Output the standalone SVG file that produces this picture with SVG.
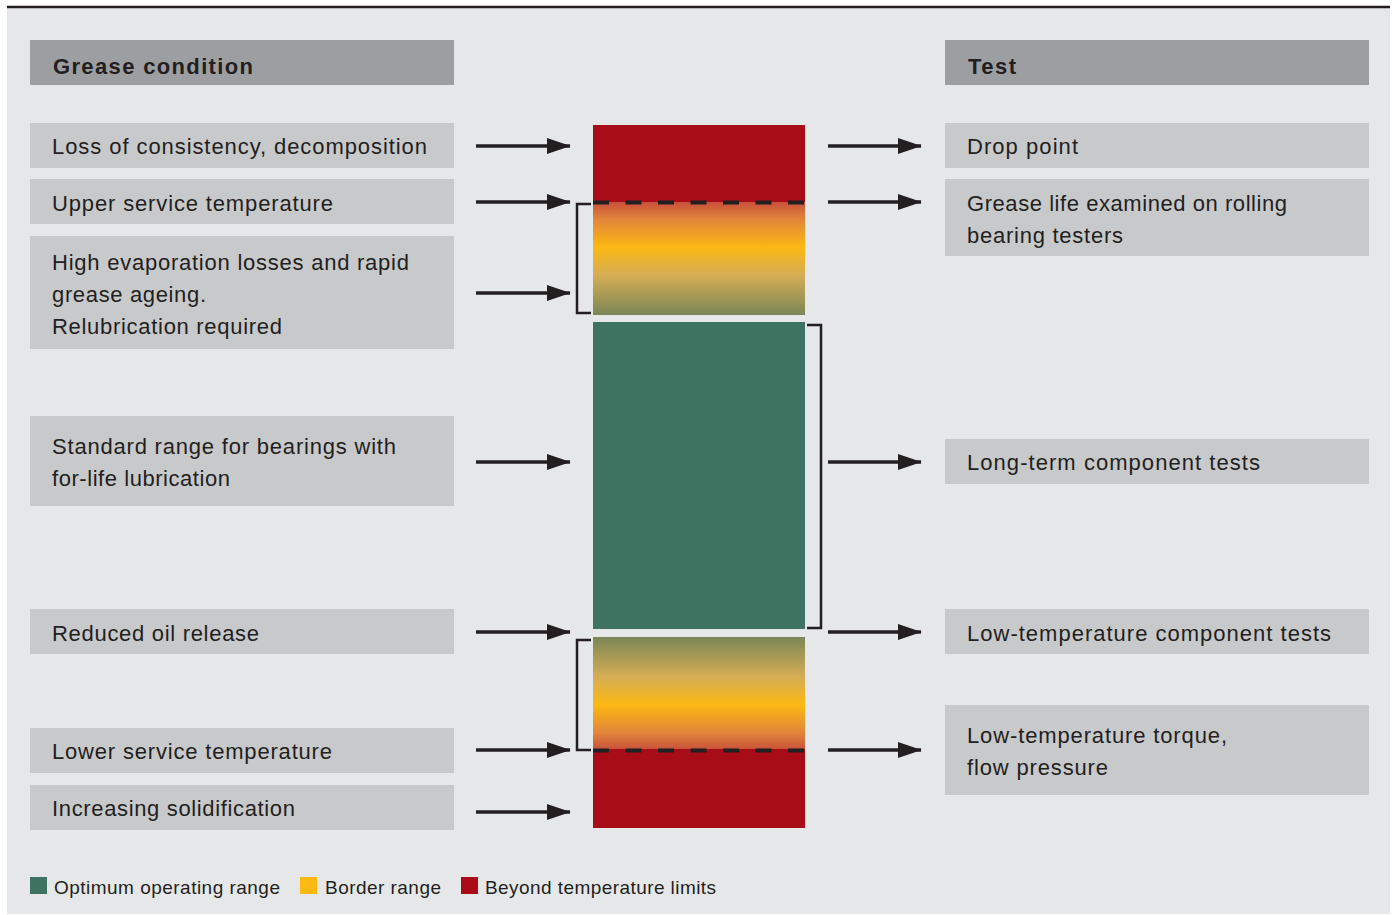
<svg xmlns="http://www.w3.org/2000/svg" width="1396" height="915" viewBox="0 0 1396 915">
<defs>
<style>
.t{font-family:"Liberation Sans",Arial,sans-serif;font-size:22px;fill:#231f20}
.h{font-family:"Liberation Sans",Arial,sans-serif;font-size:22px;font-weight:bold;fill:#231f20}
.l{font-family:"Liberation Sans",Arial,sans-serif;font-size:19px;fill:#231f20}
.hb{fill:#9d9ea1}
.b{fill:#c8c9cb}
.ar{stroke:#231f20;stroke-width:3.5;fill:none;marker-end:url(#ah)}
.br{stroke:#231f20;stroke-width:2.5;fill:none}
.ds{stroke:#231f20;stroke-width:4;stroke-dasharray:16 16.5;fill:none}
</style>
<marker id="ah" markerWidth="7" markerHeight="5" refX="6.6" refY="2.5" orient="auto" markerUnits="strokeWidth">
<path d="M0,0.2 L6.8,2.5 L0,4.8 Z" fill="#231f20"/>
</marker>
<linearGradient id="gUp" x1="0" y1="0" x2="0" y2="1">
<stop offset="0" stop-color="#c9503a"/>
<stop offset="0.15" stop-color="#e0843a"/>
<stop offset="0.4" stop-color="#fcb813"/>
<stop offset="0.65" stop-color="#d5ad55"/>
<stop offset="1" stop-color="#7a8655"/>
</linearGradient>
<linearGradient id="gLo" x1="0" y1="1" x2="0" y2="0">
<stop offset="0" stop-color="#c9503a"/>
<stop offset="0.15" stop-color="#e0843a"/>
<stop offset="0.4" stop-color="#fcb813"/>
<stop offset="0.65" stop-color="#d5ad55"/>
<stop offset="1" stop-color="#7a8655"/>
</linearGradient>
</defs>
<rect x="7" y="8" width="1383" height="906" fill="#e6e7e8"/>
<line x1="7" y1="7" x2="1390" y2="7" stroke="#231f20" stroke-width="2.5"/>

<g id="header-left"><rect class="hb" x="30" y="40" width="424" height="45"/><text class="h" x="53" y="74" textLength="200" lengthAdjust="spacing">Grease condition</text></g>
<g id="header-right"><rect class="hb" x="945" y="40" width="424" height="45"/><text class="h" x="968" y="74" textLength="48" lengthAdjust="spacing">Test</text></g>

<g id="c1"><rect class="b" x="30" y="123" width="424" height="45"/><text class="t" x="52" y="154" textLength="375" lengthAdjust="spacing">Loss of consistency, decomposition</text></g>
<g id="c2"><rect class="b" x="30" y="179" width="424" height="45"/><text class="t" x="52" y="211" textLength="281" lengthAdjust="spacing">Upper service temperature</text></g>
<g id="c3"><rect class="b" x="30" y="236" width="424" height="113"/><text class="t" x="52" y="270" textLength="357" lengthAdjust="spacing">High evaporation losses and rapid</text><text class="t" x="52" y="302" textLength="154" lengthAdjust="spacing">grease ageing.</text><text class="t" x="52" y="334" textLength="230" lengthAdjust="spacing">Relubrication required</text></g>
<g id="c4"><rect class="b" x="30" y="416" width="424" height="90"/><text class="t" x="52" y="454" textLength="344" lengthAdjust="spacing">Standard range for bearings with</text><text class="t" x="52" y="486" textLength="178" lengthAdjust="spacing">for-life lubrication</text></g>
<g id="c5"><rect class="b" x="30" y="609" width="424" height="45"/><text class="t" x="52" y="641" textLength="207" lengthAdjust="spacing">Reduced oil release</text></g>
<g id="c6"><rect class="b" x="30" y="728" width="424" height="45"/><text class="t" x="52" y="759" textLength="280" lengthAdjust="spacing">Lower service temperature</text></g>
<g id="c7"><rect class="b" x="30" y="785" width="424" height="45"/><text class="t" x="52" y="816" textLength="243" lengthAdjust="spacing">Increasing solidification</text></g>

<g id="t1"><rect class="b" x="945" y="123" width="424" height="45"/><text class="t" x="967" y="154" textLength="111" lengthAdjust="spacing">Drop point</text></g>
<g id="t2"><rect class="b" x="945" y="179" width="424" height="77"/><text class="t" x="967" y="211" textLength="320" lengthAdjust="spacing">Grease life examined on rolling</text><text class="t" x="967" y="243" textLength="156" lengthAdjust="spacing">bearing testers</text></g>
<g id="t3"><rect class="b" x="945" y="439" width="424" height="45"/><text class="t" x="967" y="470" textLength="293" lengthAdjust="spacing">Long-term component tests</text></g>
<g id="t4"><rect class="b" x="945" y="609" width="424" height="45"/><text class="t" x="967" y="641" textLength="364" lengthAdjust="spacing">Low-temperature component tests</text></g>
<g id="t5"><rect class="b" x="945" y="705" width="424" height="90"/><text class="t" x="967" y="743" textLength="260" lengthAdjust="spacing">Low-temperature torque,</text><text class="t" x="967" y="775" textLength="141" lengthAdjust="spacing">flow pressure</text></g>

<g id="scale">
<rect x="593" y="125" width="212" height="78" fill="#a80c16"/>
<rect x="593" y="202" width="212" height="113" fill="url(#gUp)"/>
<rect x="593" y="322" width="212" height="307" fill="#3d7360"/>
<rect x="593" y="637" width="212" height="113" fill="url(#gLo)"/>
<rect x="593" y="749" width="212" height="79" fill="#a80c16"/>
<line class="ds" x1="593" y1="202.5" x2="805" y2="202.5"/>
<line class="ds" x1="593" y1="750.5" x2="805" y2="750.5"/>
</g>

<g id="connectors">
<path class="br" d="M591,204 H577 V313 H591"/>
<path class="br" d="M591,640 H577 V750 H591"/>
<path class="br" d="M807,325 H821 V628 H807"/>
<line class="ar" x1="476" y1="146" x2="570" y2="146"/>
<line class="ar" x1="476" y1="202" x2="570" y2="202"/>
<line class="ar" x1="476" y1="293" x2="570" y2="293"/>
<line class="ar" x1="476" y1="462" x2="570" y2="462"/>
<line class="ar" x1="476" y1="632" x2="570" y2="632"/>
<line class="ar" x1="476" y1="750" x2="570" y2="750"/>
<line class="ar" x1="476" y1="812" x2="570" y2="812"/>
<line class="ar" x1="828" y1="146" x2="921" y2="146"/>
<line class="ar" x1="828" y1="202" x2="921" y2="202"/>
<line class="ar" x1="828" y1="462" x2="921" y2="462"/>
<line class="ar" x1="828" y1="632" x2="921" y2="632"/>
<line class="ar" x1="828" y1="750" x2="921" y2="750"/>
</g>

<g id="legend">
<rect x="30" y="877" width="17" height="17" fill="#3d7360"/><text class="l" x="54" y="894" textLength="226" lengthAdjust="spacing">Optimum operating range</text>
<rect x="300" y="877" width="17" height="17" fill="#fcb813"/><text class="l" x="325" y="894" textLength="116" lengthAdjust="spacing">Border range</text>
<rect x="461" y="877" width="17" height="17" fill="#a80c16"/><text class="l" x="485" y="894" textLength="231" lengthAdjust="spacing">Beyond temperature limits</text>
</g>
</svg>
